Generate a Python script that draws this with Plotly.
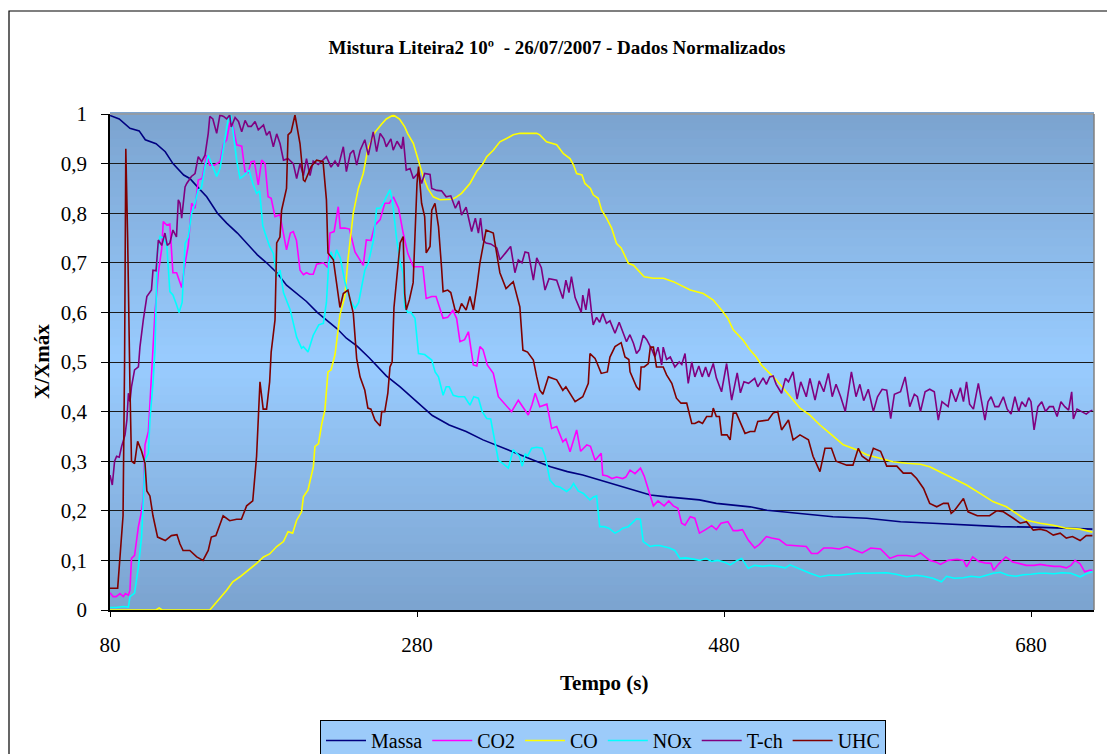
import plotly.graph_objects as go

# ---------------- data ----------------
t_massa = [80, 86, 93, 99, 103, 110, 116, 121, 128, 132, 137, 143, 150, 156, 163, 169, 176, 182, 189, 195,
           202, 208, 215, 221, 228, 234, 241, 249, 260, 269, 280, 290, 301, 312, 323, 334, 345, 356, 367, 378,
           388, 399, 410, 421, 432, 443, 454, 464, 475, 486, 497, 508, 530, 551, 573, 595, 616, 638, 660, 682,
           703, 720]
massa = [0.997, 0.99, 0.971, 0.966, 0.948, 0.94, 0.924, 0.90, 0.877, 0.87, 0.853, 0.833, 0.80, 0.78, 0.76, 0.739,
         0.716, 0.70, 0.679, 0.655, 0.638, 0.622, 0.60, 0.585, 0.567, 0.548, 0.532, 0.508, 0.472, 0.45, 0.42, 0.392,
         0.373, 0.36, 0.343, 0.329, 0.316, 0.302, 0.289, 0.279, 0.272, 0.262, 0.252, 0.242, 0.232, 0.228, 0.225,
         0.222, 0.215, 0.212, 0.208, 0.201, 0.195, 0.188, 0.185, 0.178, 0.175, 0.171, 0.168, 0.167, 0.165, 0.163]

t_co2 = [80, 82, 84, 86.5, 88.7, 90, 92, 93, 94, 96, 98.5, 100.6, 101.7, 102.8, 105, 106, 108, 109.3, 111.5, 113.7,
         114.7, 117, 119, 121, 123.4, 125.6, 126.7, 128.9, 131, 133.2, 135.4, 137.5, 140, 143, 145, 148, 151.7, 154,
         156, 158, 160, 162.5, 165.8, 168, 170, 172, 174, 176.6, 178.8, 181, 183, 185, 187.5, 190.7, 193, 195, 197.5,
         199.4, 201.5, 203.8, 206, 208, 210, 212.4, 214.6, 219, 222, 223.3, 226, 228.7, 230, 233, 236, 239.6, 242,
         245, 247, 250, 252.6, 256, 259, 262, 264.6, 268, 271, 274, 277.6, 281, 283.8, 286, 289.6, 292.4, 297, 300,
         303.4, 305.8, 308, 311, 313.5, 316.7, 319, 321, 323, 325.8, 329.7, 333, 338, 341.6, 346, 349, 352.5, 355,
         357, 360, 364.6, 367.7, 371, 375, 377, 379.7, 384, 386.6, 390.6, 393, 396, 400, 401, 404, 407, 410, 414,
         416, 418.8, 422, 425.6, 428, 432, 434, 437, 441, 444, 447, 450, 452.4, 454.6, 458, 461, 464, 468, 472, 475,
         478, 482.5, 486, 489, 492, 495.8, 500, 503, 507.6, 511, 516, 520.7, 525, 529, 533.6, 537, 541, 545, 550,
         555, 560, 566, 570, 575.6, 582, 588, 593, 599, 604, 608, 614, 618, 621, 626, 632, 636, 638, 642, 646, 650,
         654, 655.6, 659, 663.6, 668, 672, 677, 682, 686, 690, 695, 699, 703, 706, 708.7, 712, 715, 718, 720]
co2 = [0.035, 0.027, 0.027, 0.033, 0.027, 0.033, 0.03, 0.04, 0.104, 0.11, 0.168, 0.20, 0.228, 0.333, 0.36, 0.417,
       0.524, 0.60, 0.68, 0.729, 0.783, 0.776, 0.778, 0.68, 0.68, 0.662, 0.65, 0.699, 0.735, 0.82, 0.81, 0.867, 0.87,
       0.917, 0.897, 0.897, 0.904, 0.94, 0.948, 0.981, 0.978, 0.938, 0.935, 0.884, 0.882, 0.904, 0.905, 0.857, 0.907,
       0.90, 0.833, 0.83, 0.793, 0.797, 0.76, 0.726, 0.76, 0.763, 0.745, 0.685, 0.676, 0.68, 0.677, 0.677, 0.697, 0.70,
       0.69, 0.76, 0.763, 0.813, 0.77, 0.77, 0.768, 0.722, 0.71, 0.695, 0.746, 0.745, 0.776, 0.787, 0.82, 0.82, 0.833,
       0.81, 0.76, 0.719, 0.692, 0.692, 0.692, 0.628, 0.632, 0.632, 0.588, 0.59, 0.604, 0.588, 0.541, 0.545, 0.561,
       0.494, 0.492, 0.531, 0.525, 0.494, 0.477, 0.43, 0.413, 0.40, 0.423, 0.41, 0.393, 0.415, 0.437, 0.41, 0.415,
       0.366, 0.37, 0.339, 0.345, 0.319, 0.363, 0.32, 0.333, 0.33, 0.302, 0.316, 0.272, 0.27, 0.265, 0.268, 0.265,
       0.268, 0.282, 0.275, 0.286, 0.27, 0.232, 0.21, 0.22, 0.21, 0.22, 0.21, 0.205, 0.175, 0.171, 0.188, 0.185,
       0.155, 0.162, 0.17, 0.162, 0.175, 0.178, 0.16, 0.16, 0.162, 0.141, 0.125, 0.132, 0.148, 0.145, 0.142, 0.131,
       0.13, 0.13, 0.128, 0.114, 0.114, 0.125, 0.125, 0.123, 0.128, 0.12, 0.115, 0.125, 0.123, 0.104, 0.11, 0.11,
       0.108, 0.115, 0.10, 0.097, 0.092, 0.10, 0.102, 0.10, 0.087, 0.107, 0.098, 0.095, 0.094, 0.08, 0.093, 0.107,
       0.097, 0.094, 0.09, 0.09, 0.092, 0.09, 0.088, 0.088, 0.085, 0.09, 0.10, 0.093, 0.077, 0.08, 0.08]

t_co = [80, 110, 112, 114, 145, 148, 151.7, 156, 160, 164.7, 169, 172, 175.5, 180, 184, 188.6, 193, 196, 199, 201.6,
        204.8, 206, 209, 212.5, 213.5, 215.8, 218, 220, 222, 224, 226.6, 229.8, 233, 235, 238.5, 241.8, 245, 248,
        252.6, 257, 260, 264.6, 268.6, 272, 274, 277.6, 281, 284, 287, 290.6, 295, 299, 303, 305.8, 309, 314.5,
        318.8, 323, 325.4, 329.7, 334, 338.6, 342.7, 347, 351.6, 358, 360, 364.4, 371, 375.4, 379.7, 382, 384,
        387.5, 389.4, 393, 394.8, 398, 400.3, 403.5, 406.8, 410, 413, 417.7, 421, 425, 428, 434, 440.6, 447, 453.4,
        458, 466.5, 473, 478.4, 482.5, 486, 492.5, 497, 501, 504.4, 509, 514, 519.7, 525, 529.5, 536, 542.5, 549,
        557.7, 566.4, 573, 581.6, 590, 599, 608, 614, 620.7, 629.5, 638, 646.8, 655.5, 664, 671.7, 677, 686, 694.5,
        703, 712, 720]
co = [0, 0, 0.004, 0, 0, 0.01, 0.024, 0.04, 0.057, 0.067, 0.077, 0.084, 0.094, 0.107, 0.113, 0.128, 0.138, 0.158,
      0.155, 0.181, 0.198, 0.228, 0.242, 0.289, 0.33, 0.335, 0.376, 0.403, 0.48, 0.484, 0.515, 0.595, 0.632, 0.706,
      0.80, 0.85, 0.88, 0.93, 0.963, 0.98, 0.99, 0.998, 0.99, 0.974, 0.96, 0.941, 0.904, 0.874, 0.85, 0.833, 0.827,
      0.827, 0.828, 0.833, 0.84, 0.86, 0.884, 0.90, 0.914, 0.927, 0.944, 0.951, 0.958, 0.961, 0.961, 0.961, 0.958,
      0.944, 0.938, 0.92, 0.91, 0.897, 0.88, 0.877, 0.86, 0.85, 0.837, 0.83, 0.806, 0.79, 0.77, 0.739, 0.73, 0.699,
      0.695, 0.682, 0.672, 0.669, 0.669, 0.662, 0.652, 0.645, 0.638, 0.625, 0.605, 0.588, 0.565, 0.544, 0.524, 0.51,
      0.494, 0.48, 0.464, 0.443, 0.423, 0.407, 0.393, 0.373, 0.356, 0.333, 0.323, 0.313, 0.306, 0.299, 0.296, 0.294,
      0.289, 0.279, 0.265, 0.252, 0.235, 0.218, 0.208, 0.192, 0.181, 0.175, 0.171, 0.165, 0.163, 0.157]

t_nox = [80, 84, 88.7, 92, 93, 96, 98.5, 100.6, 101.7, 102.8, 105, 106, 108, 109.3, 110.8, 112.6, 114.7, 117, 119,
         121, 123.4, 125, 127, 128.9, 131, 133.2, 135.4, 137.5, 139.5, 141.9, 144, 146, 149.5, 151.7, 155, 157,
         158.5, 160, 162.5, 164.7, 167, 170.6, 173, 175.5, 177.5, 179.5, 181, 184, 186.4, 188.6, 190.8, 193, 197.4,
         201.6, 204.8, 206, 209, 211, 212.4, 216, 219, 221, 222.5, 224, 226, 227.6, 230, 233, 236.4, 239.6, 242,
         246, 248.3, 251.7, 253.7, 256, 258, 260, 262.4, 264, 266.8, 269, 271, 272, 274, 276, 278.7, 281, 285,
         289.6, 291.8, 294, 297, 299, 301, 303.6, 307, 311, 314.5, 317, 320, 322.5, 325.4, 328, 330.8, 333, 336,
         339.5, 342.7, 345, 346.7, 348.6, 350.5, 352, 354.7, 358, 361.5, 363.5, 366.6, 370, 373, 377.5, 380, 382,
         385, 388.4, 392.7, 395, 397, 399, 402, 405, 409, 412, 414, 417.6, 420, 423, 425.5, 427.4, 431.8, 435, 438,
         441, 444.5, 448, 451.3, 455, 458, 461, 464, 468.3, 472, 476, 480, 484, 488.6, 491.5, 495.8, 500, 505, 510,
         515, 520, 523, 529.5, 536, 542.5, 548, 555, 561, 567, 573, 580, 586, 592, 599, 605, 610, 616, 621.7, 625,
         630, 636, 641, 646.5, 651, 655.5, 660, 665, 670, 675, 680, 685, 690, 695, 700, 706, 712, 716, 720]
nox = [0.005, 0.005, 0.007, 0.006, 0.027, 0.034, 0.087, 0.148, 0.222, 0.302, 0.316, 0.383, 0.457, 0.524, 0.719,
       0.753, 0.75, 0.735, 0.642, 0.635, 0.615, 0.60, 0.62, 0.739, 0.752, 0.80, 0.82, 0.847, 0.85, 0.894, 0.917, 0.90,
       0.874, 0.89, 0.954, 0.99, 1.0, 0.97, 0.907, 0.87, 0.875, 0.887, 0.86, 0.84, 0.845, 0.775, 0.76, 0.733, 0.719,
       0.672, 0.685, 0.64, 0.605, 0.55, 0.528, 0.531, 0.52, 0.54, 0.554, 0.575, 0.578, 0.62, 0.70, 0.722, 0.705,
       0.726, 0.71, 0.662, 0.625, 0.608, 0.62, 0.685, 0.70, 0.746, 0.81, 0.81, 0.82, 0.833, 0.847, 0.825, 0.746, 0.70,
       0.679, 0.611, 0.60, 0.60, 0.588, 0.517, 0.515, 0.504, 0.48, 0.47, 0.433, 0.45, 0.45, 0.433, 0.43, 0.43, 0.413,
       0.43, 0.427, 0.40, 0.386, 0.385, 0.336, 0.302, 0.295, 0.286, 0.323, 0.315, 0.31, 0.29, 0.315, 0.31, 0.326,
       0.328, 0.326, 0.31, 0.262, 0.25, 0.248, 0.239, 0.245, 0.255, 0.24, 0.235, 0.222, 0.228, 0.23, 0.168, 0.168,
       0.165, 0.155, 0.16, 0.165, 0.168, 0.175, 0.184, 0.183, 0.138, 0.128, 0.13, 0.13, 0.128, 0.125, 0.12, 0.104,
       0.105, 0.104, 0.102, 0.10, 0.104, 0.098, 0.10, 0.097, 0.091, 0.10, 0.104, 0.084, 0.09, 0.088, 0.09, 0.088,
       0.085, 0.091, 0.082, 0.074, 0.067, 0.07, 0.07, 0.072, 0.074, 0.074, 0.074, 0.075, 0.072, 0.067, 0.07, 0.068,
       0.064, 0.057, 0.068, 0.064, 0.065, 0.068, 0.066, 0.07, 0.074, 0.076, 0.07, 0.068, 0.071, 0.072, 0.074, 0.074,
       0.073, 0.075, 0.074, 0.067, 0.073, 0.077]

t_tch = [80, 81.5, 83, 84.3, 86, 87.6, 89.8, 91, 92, 93, 94, 96, 98.5, 99.5, 101.7, 104, 107, 108, 110, 111.5, 113.7,
         115.8, 117.3, 119, 121, 123.3, 124.5, 125.6, 126.7, 128.9, 130, 133, 135.4, 137.5, 139.7, 141.9, 144, 145,
         147, 149.5, 151.6, 154, 156, 158, 159, 161.5, 163.7, 165.8, 168, 170, 172, 174.5, 176.6, 180, 182, 184,
         186.4, 188.6, 190.8, 193, 196, 199.4, 201.6, 203.8, 206, 208, 210.3, 212.4, 215.7, 218, 221, 224, 226.6,
         228.7, 232, 234, 236.5, 238.6, 240.7, 243, 246, 248.3, 251.5, 253.7, 256, 258.4, 260, 263, 264.5, 267, 270,
         271, 273, 275.5, 277.6, 281, 283, 285, 288.5, 289.6, 293, 296, 299, 302, 305, 307.3, 309, 312, 315.6, 318,
         320, 321.4, 323, 325, 328, 332, 334, 337.7, 341, 343.8, 346, 348.4, 350.4, 352.6, 355.8, 358, 361, 363.4,
         366, 371, 373, 375, 377, 379, 380.6, 383, 387, 388, 390, 392, 393.7, 394.8, 397, 399, 401, 403.4, 405.7,
         409, 411.7, 413, 416.5, 418.7, 421, 423, 425, 427.4, 429.7, 433, 435, 437, 439.4, 440.4, 442.6, 445, 448,
         450.8, 452.5, 454.6, 456.7, 459, 461, 463.6, 465.8, 468, 470, 473, 475, 478.4, 481.7, 485, 488.6, 490.7,
         493, 496, 500, 502, 505.5, 507.6, 509.8, 512, 514, 517.5, 520, 522, 525, 527.6, 530, 533.6, 536, 539.3, 542,
         545, 548, 550.5, 553, 556, 559, 563, 566, 568.5, 571, 574, 577.3, 580, 583, 586, 588.6, 591, 595, 598, 601,
         604, 606, 608, 611, 614, 617, 619.6, 622, 626, 628, 631, 634, 636, 638, 640, 642.5, 645.7, 648, 650, 652,
         654, 656.5, 659, 662, 664.5, 667, 669.5, 672, 674, 676.5, 678.5, 680, 682, 684.5, 687, 689.5, 692, 694.5,
         697, 699.5, 702, 704.5, 706.5, 707.6, 710, 713, 716, 718, 720]
tch = [0.272, 0.252, 0.30, 0.31, 0.308, 0.33, 0.353, 0.383, 0.437, 0.42, 0.45, 0.484, 0.49, 0.53, 0.585, 0.632,
       0.645, 0.685, 0.684, 0.746, 0.735, 0.76, 0.735, 0.74, 0.766, 0.752, 0.827, 0.82, 0.79, 0.853, 0.86, 0.874,
       0.88, 0.914, 0.904, 0.917, 0.961, 0.995, 0.99, 0.961, 0.998, 0.995, 0.99, 0.998, 0.974, 0.993, 0.985, 0.964,
       0.987, 0.975, 0.975, 0.985, 0.968, 0.978, 0.957, 0.965, 0.934, 0.96, 0.94, 0.907, 0.91, 0.90, 0.87, 0.90,
       0.876, 0.91, 0.876, 0.905, 0.898, 0.905, 0.914, 0.893, 0.905, 0.894, 0.934, 0.884, 0.92, 0.927, 0.897, 0.927,
       0.948, 0.917, 0.964, 0.924, 0.961, 0.95, 0.934, 0.95, 0.927, 0.945, 0.93, 0.954, 0.887, 0.89, 0.87, 0.882,
       0.86, 0.88, 0.878, 0.85, 0.846, 0.845, 0.833, 0.835, 0.81, 0.825, 0.796, 0.812, 0.763, 0.79, 0.76, 0.79,
       0.746, 0.74, 0.738, 0.73, 0.706, 0.72, 0.733, 0.68, 0.706, 0.70, 0.722, 0.72, 0.665, 0.71, 0.69, 0.645,
       0.668, 0.665, 0.645, 0.628, 0.665, 0.64, 0.672, 0.63, 0.60, 0.635, 0.605, 0.648, 0.60, 0.575, 0.59, 0.58,
       0.598, 0.578, 0.583, 0.558, 0.58, 0.57, 0.541, 0.555, 0.538, 0.517, 0.525, 0.554, 0.545, 0.525, 0.51, 0.53,
       0.494, 0.53, 0.505, 0.51, 0.49, 0.50, 0.495, 0.517, 0.457, 0.50, 0.47, 0.492, 0.47, 0.49, 0.47, 0.497, 0.468,
       0.44, 0.497, 0.423, 0.478, 0.438, 0.46, 0.457, 0.467, 0.45, 0.468, 0.455, 0.47, 0.472, 0.455, 0.437, 0.467,
       0.46, 0.48, 0.425, 0.46, 0.43, 0.467, 0.423, 0.462, 0.44, 0.477, 0.43, 0.455, 0.43, 0.40, 0.48, 0.43, 0.455,
       0.422, 0.445, 0.40, 0.43, 0.445, 0.443, 0.386, 0.435, 0.44, 0.47, 0.41, 0.435, 0.43, 0.40, 0.44, 0.445, 0.44,
       0.383, 0.42, 0.41, 0.445, 0.42, 0.448, 0.42, 0.46, 0.415, 0.405, 0.457, 0.42, 0.383, 0.42, 0.43, 0.41, 0.41,
       0.43, 0.405, 0.395, 0.43, 0.40, 0.42, 0.41, 0.428, 0.42, 0.363, 0.41, 0.42, 0.40, 0.41, 0.41, 0.39, 0.42,
       0.41, 0.403, 0.44, 0.385, 0.405, 0.40, 0.395, 0.40, 0.403]

t_uhc = [80, 85, 88.5, 89.5, 90.3, 91.5, 93, 94, 96, 98, 100.6, 102.8, 104, 106, 108, 111, 116, 120, 123.6, 125.6,
         127.6, 132, 136.5, 140.6, 144, 146, 149, 153.7, 158, 162.5, 165.6, 169, 173, 175.5, 177.7, 179.8, 182, 184,
         185, 187.5, 188.6, 190.7, 191.8, 195, 196, 198, 200.5, 203.8, 206, 207, 211, 214.6, 218.8, 221, 222, 225.5,
         229.8, 232, 235, 238.5, 240.7, 242.9, 246, 248, 250, 252.6, 256, 257, 259, 261, 262.4, 263.8, 265, 269,
         271, 272, 273, 275, 277.5, 280, 281, 283, 285, 286, 288.5, 289.6, 291.7, 294, 296, 297, 300, 302, 304.8,
         307, 309, 312, 314.5, 316.7, 319, 321, 323, 325, 329.7, 332, 334, 338, 342.7, 347, 349, 352, 355.8, 358,
         360, 362, 365.6, 371, 375, 377, 383, 388, 391.6, 392.7, 396, 397, 400, 404, 405.7, 409, 413, 415.5, 418,
         418.8, 423, 425, 426, 428, 430.7, 432, 434, 436, 440.4, 442.6, 446, 449, 452, 455.7, 459, 461, 463.6, 466,
         468.7, 472, 473, 475, 477, 478.4, 482, 484, 486, 488, 491.5, 493.7, 497, 500, 502, 508.8, 512, 515, 517.5,
         522, 525, 529.5, 535, 538, 542.5, 545.8, 550, 553, 560, 564, 567.5, 570, 574.5, 577.3, 582, 586, 592.6,
         596.8, 602, 605.5, 610, 614, 618.6, 623, 626, 628, 630, 636, 639, 645, 649, 653, 657.6, 662, 668.5, 673,
         677, 681.5, 686, 690, 694.5, 699, 703, 707, 712, 716, 720]
uhc = [0.044, 0.044, 0.19, 0.5, 0.93, 0.75, 0.45, 0.30, 0.295, 0.34, 0.32, 0.296, 0.24, 0.23, 0.19, 0.147, 0.14,
       0.15, 0.152, 0.133, 0.12, 0.12, 0.107, 0.10, 0.12, 0.147, 0.15, 0.19, 0.18, 0.183, 0.183, 0.21, 0.22, 0.31,
       0.46, 0.405, 0.405, 0.46, 0.52, 0.585, 0.74, 0.752, 0.806, 0.85, 0.958, 0.964, 0.998, 0.94, 0.867, 0.864,
       0.894, 0.907, 0.904, 0.827, 0.72, 0.706, 0.61, 0.638, 0.645, 0.598, 0.507, 0.47, 0.443, 0.407, 0.405, 0.383,
       0.371, 0.40, 0.40, 0.437, 0.49, 0.50, 0.61, 0.74, 0.753, 0.638, 0.605, 0.625, 0.66, 0.86, 0.894, 0.82, 0.793,
       0.72, 0.733, 0.806, 0.82, 0.773, 0.69, 0.642, 0.645, 0.64, 0.605, 0.60, 0.618, 0.605, 0.632, 0.605, 0.652,
       0.70, 0.733, 0.766, 0.76, 0.712, 0.68, 0.648, 0.662, 0.611, 0.524, 0.52, 0.504, 0.47, 0.443, 0.435, 0.47,
       0.464, 0.443, 0.45, 0.42, 0.43, 0.457, 0.517, 0.507, 0.50, 0.477, 0.48, 0.51, 0.531, 0.539, 0.51, 0.505, 0.48,
       0.45, 0.443, 0.49, 0.49, 0.497, 0.53, 0.53, 0.49, 0.49, 0.474, 0.457, 0.427, 0.417, 0.417, 0.376, 0.376,
       0.38, 0.376, 0.39, 0.39, 0.407, 0.39, 0.39, 0.353, 0.353, 0.343, 0.397, 0.397, 0.37, 0.356, 0.36, 0.36, 0.38,
       0.383, 0.397, 0.40, 0.363, 0.383, 0.343, 0.353, 0.343, 0.31, 0.279, 0.326, 0.326, 0.30, 0.292, 0.292, 0.326,
       0.31, 0.30, 0.326, 0.32, 0.29, 0.29, 0.276, 0.276, 0.265, 0.245, 0.215, 0.208, 0.215, 0.215, 0.195, 0.20,
       0.225, 0.198, 0.19, 0.19, 0.19, 0.20, 0.198, 0.185, 0.175, 0.178, 0.161, 0.163, 0.16, 0.151, 0.155, 0.145,
       0.148, 0.14, 0.15, 0.15]

series_names = ["Massa", "CO2", "CO", "NOx", "T-ch", "UHC"]
series_x = [t_massa, t_co2, t_co, t_nox, t_tch, t_uhc]
series_y = [massa, co2, co, nox, tch, uhc]
series_colors = ["#000080", "#FF00FF", "#FFFF00", "#00FFFF", "#800080", "#800000"]

y_tickvals = [0, 0.1, 0.2, 0.3, 0.4, 0.5, 0.6, 0.7, 0.8, 0.9, 1]
y_ticktext = ["0", "0,1", "0,2", "0,3", "0,4", "0,5", "0,6", "0,7", "0,8", "0,9", "1"]
x_tickvals = [80, 280, 480, 680]

# ---------------- figure ----------------
FONT = "Liberation Serif, Times New Roman, serif"
W, H = 1115, 754
OFF = 8  # page body margin: screen = figure + 8 px
SL, SR, ST, SB = 110, 1094, 114, 610
L, R, T, B = SL - OFF, SR - OFF, ST - OFF, SB - OFF


def sx(px):  # screen x -> paper x
    return (px - OFF - L) / (R - L)


def sy(py):  # screen y -> paper y
    return (B - (py - OFF)) / (B - T)


fig = go.Figure()
for name, xs, ys, col in zip(series_names, series_x, series_y, series_colors):
    fig.add_trace(go.Scatter(x=xs, y=ys, mode="lines", name=name,
                             line=dict(color=col, width=1.6)))

# gradient plot background (edge -> centre -> edge)
edge = (123, 163, 207)
centre = (153, 204, 255)
shapes = []
N = 60
for i in range(N):
    f = (i + 0.5) / N
    w = 1 - abs(f - 0.5) * 2
    c = tuple(int(round(edge[k] + (centre[k] - edge[k]) * w)) for k in range(3))
    shapes.append(dict(type="rect", xref="x domain", yref="y domain", x0=0, x1=1,
                       y0=i / N, y1=(i + 1) / N + 0.004, fillcolor="rgb(%d,%d,%d)" % c,
                       line=dict(width=0), layer="below"))
shapes.append(dict(type="line", xref="x domain", yref="y domain", x0=0, x1=1, y0=1, y1=1,
                   line=dict(color="#9A9A9A", width=1.5), layer="above"))
shapes.append(dict(type="line", xref="x domain", yref="y domain", x0=1, x1=1, y0=0, y1=1,
                   line=dict(color="#808080", width=1.5), layer="above"))
shapes.append(dict(type="rect", xref="paper", yref="paper",
                   x0=sx(OFF + 1), x1=sx(1111), y0=sy(11), y1=sy(800),
                   line=dict(color="#000000", width=1.2), fillcolor="rgba(0,0,0,0)", layer="below"))

fig.update_layout(
    width=W, height=H,
    margin=dict(l=L, r=W - R, t=T, b=H - B, autoexpand=False),
    paper_bgcolor="white", plot_bgcolor="#99CCFF",
    shapes=shapes,
    font=dict(family=FONT, size=21, color="black"),
    title=dict(text="<b>Mistura Liteira2 10º  - 26/07/2007 - Dados Normalizados</b>",
               x=(557 - OFF) / W, xref="container", y=1 - (47 - OFF) / H, yref="container",
               xanchor="center", yanchor="middle",
               font=dict(family=FONT, size=19, color="black")),
    showlegend=True,
    legend=dict(orientation="h", x=sx(603), xanchor="center", y=sy(720), yanchor="top",
                bgcolor="#9CCBFA", bordercolor="black", borderwidth=1,
                font=dict(family=FONT, size=20, color="black"), itemwidth=40,
                traceorder="normal", tracegroupgap=0),
    annotations=[
        dict(text="<b>Tempo (s)</b>", xref="paper", yref="paper", x=sx(604), y=sy(683),
             xanchor="center", yanchor="middle", showarrow=False, font=dict(family=FONT, size=21)),
        dict(text="<b>X/Xmáx</b>", xref="paper", yref="paper", x=sx(42), y=0.5,
             xanchor="center", yanchor="middle", showarrow=False, textangle=-90,
             font=dict(family=FONT, size=21)),
    ],
)
fig.update_xaxes(range=[80, 80 + (R - L) / 1.535], tickvals=x_tickvals, ticktext=[str(v) for v in x_tickvals],
                 ticks="outside", ticklen=5, tickcolor="black", showline=True, linecolor="black", linewidth=1.5,
                 showgrid=False, zeroline=False, tickfont=dict(family=FONT, size=21), ticklabelstandoff=10)
fig.update_yaxes(range=[0, 1], tickvals=y_tickvals, ticktext=y_ticktext,
                 ticks="outside", ticklen=7, tickcolor="black", showline=True, linecolor="black", linewidth=1.5,
                 showgrid=True, gridcolor="#1A1A1A", gridwidth=1, zeroline=False,
                 tickfont=dict(family=FONT, size=21), ticklabelstandoff=10)

fig.write_html("out.html")
